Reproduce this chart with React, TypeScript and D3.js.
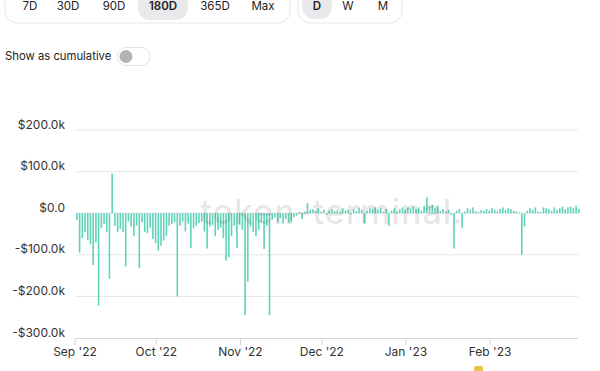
import React from "react";
import * as d3 from "d3";

const startDate = new Date(2022, 8, 1);
// daily net values in $k, Sep 1 2022 .. Mar 5 2023
const values: number[] = [
  -16, -95, -60, -45, -65, -75, -125, -70, -222, -35,
  -25, -45, -158, 95, -30, -45, -38, -45, -128, -20,
  -32, -55, -30, -132, -22, -45, -48, -35, -62, -72,
  -90, -78, -66, -55, -30, -26, -22, -200, -30, -20,
  -44, -25, -84, -36, -30, -24, -20, -44, -85, -32,
  -28, -55, -40, -35, -60, -114, -106, -55, -30, -84,
  -28, -40, -245, -165, -32, -45, -55, -40, -22, -86,
  -30, -245, -16, -10, -22, -12, -25, -14, -24, -20,
  -10, -6, 3, -14, 4, 24, 8, 10, 6, 12,
  4, 8, -4, 6, 10, 5, 8, 3, 12, 6,
  8, -3, 10, 5, 14, 8, -24, 6, 12, 10,
  14, 8, 12, 4, 10, -30, 6, 12, 4, 10,
  14, 8, 14, 12, 16, 10, 14, 6, 18, 38,
  16, 20, 12, 18, 6, 10, 4, 8, -4, -85,
  6, 10, -35, 4, 12, 8, 14, 5, 3, 8,
  6, 10, 6, 12, 8, 4, 10, 14, 8, 12,
  10, 6, 4, 2, -100, -32, 6, 12, 8, 14,
  4, 3, 14, 12, 10, 6, 14, 8, 12, 16,
  10, 14, 16, 12, 18, 10,
];
const dates: Date[] = values.map((_, i) => d3.timeDay.offset(startDate, i));

const yTicks: number[] = [200, 100, 0, -100, -200, -300];
const xTickDates: Date[] = [
  new Date(2022, 8, 1),
  new Date(2022, 9, 1),
  new Date(2022, 10, 1),
  new Date(2022, 11, 1),
  new Date(2023, 0, 1),
  new Date(2023, 1, 1),
];
const rangeButtons: string[] = ["7D", "30D", "90D", "180D", "365D", "Max"];
const rangeCenters: number[] = [30, 68, 114, 163, 215, 263];
const granButtons: string[] = ["D", "W", "M"];
const granCenters: number[] = [317, 348, 383];

const FONT = "Inter, 'Noto Sans', sans-serif";

export default function App() {
  const left = 75;
  const right = 578;
  const x = d3
    .scaleTime()
    .domain([startDate, d3.timeHour.offset(startDate, Math.round(185.4 * 24))])
    .range([left, right]);
  const y = d3.scaleLinear().domain([-300, 200]).range([338, 130]);
  const barOffset = 1.9;
  const barW = 1.6;

  const fmtY = (v: number) =>
    v === 0 ? "$0.0" : (v < 0 ? "-" : "") + "$" + Math.abs(v).toFixed(1) + "k";
  const fmtX = (d: Date) => d3.timeFormat("%b '%y")(d);

  return (
    <svg
      width={600}
      height={371}
      style={{ position: "absolute", left: 0, top: 0, background: "#fff" }}
      fontFamily={FONT}
    >
      {/* range selector */}
      <rect x={5} y={-20} width={285} height={43} rx={12} fill="#fff" stroke="#e6e6e6" />
      <rect x={138} y={-14} width={50} height={34} rx={12} fill="#e9e9ec" />
      {rangeButtons.map((b, i) => (
        <text
          key={b}
          x={rangeCenters[i]}
          y={9.5}
          textAnchor="middle"
          fontSize={11.5}
          fontWeight={b === "180D" ? 600 : 400}
          fill="#222"
        >
          {b}
        </text>
      ))}
      <rect x={298} y={-20} width={104} height={43} rx={12} fill="#fff" stroke="#e6e6e6" />
      <rect x={302} y={-14} width={30} height={33} rx={12} fill="#e9e9ec" />
      {granButtons.map((b, i) => (
        <text
          key={b}
          x={granCenters[i]}
          y={9.5}
          textAnchor="middle"
          fontSize={11.5}
          fontWeight={b === "D" ? 600 : 400}
          fill="#222"
        >
          {b}
        </text>
      ))}

      {/* cumulative toggle */}
      <text x={5} y={60} fontSize={11.3} fill="#222">
        Show as cumulative
      </text>
      <rect x={117} y={47.5} width={33} height={18} rx={9} fill="#fff" stroke="#e3e3e3" />
      <circle cx={126} cy={56.5} r={6.5} fill="#b3b3b3" />

      {/* grid */}
      {yTicks.map((t) => (
        <g key={t}>
          {t !== -300 && (
            <line x1={left + 1} x2={right} y1={y(t)} y2={y(t)} stroke="#e6e6e6" strokeWidth={1} />
          )}
          <text x={65} y={y(t) - 1.5} textAnchor="end" fontSize={12} fill="#333">
            {fmtY(t)}
          </text>
        </g>
      ))}

      {/* x axis */}
      <line x1={left} x2={right} y1={338.5} y2={338.5} stroke="#d6d6d6" />
      {xTickDates.map((d) => (
        <g key={d.toISOString()}>
          <line x1={x(d)} x2={x(d)} y1={338.5} y2={345} stroke="#d6d6d6" />
          <text x={x(d)} y={356} textAnchor="middle" fontSize={12} fill="#333">
            {fmtX(d)}
          </text>
        </g>
      ))}

      {/* bars */}
      {values.map((v, i) => (
        <rect
          key={i}
          x={x(dates[i]) + barOffset - barW / 2}
          y={Math.min(y(v), y(0))}
          width={barW}
          height={Math.max(0.8, Math.abs(y(v) - y(0)))}
          fill="#5fd3b8"
        />
      ))}

      {/* watermark */}
      <text
        x={332}
        y={224}
        textAnchor="middle"
        fontSize={34}
        fontWeight={500}
        fill="#000"
        fillOpacity={0.1}
        letterSpacing={1}
      >
        token-terminal.
      </text>

      {/* partial logo at bottom */}
      <rect x={474} y={366} width={9} height={8} rx={2} fill="#e8c34a" />
    </svg>
  );
}
